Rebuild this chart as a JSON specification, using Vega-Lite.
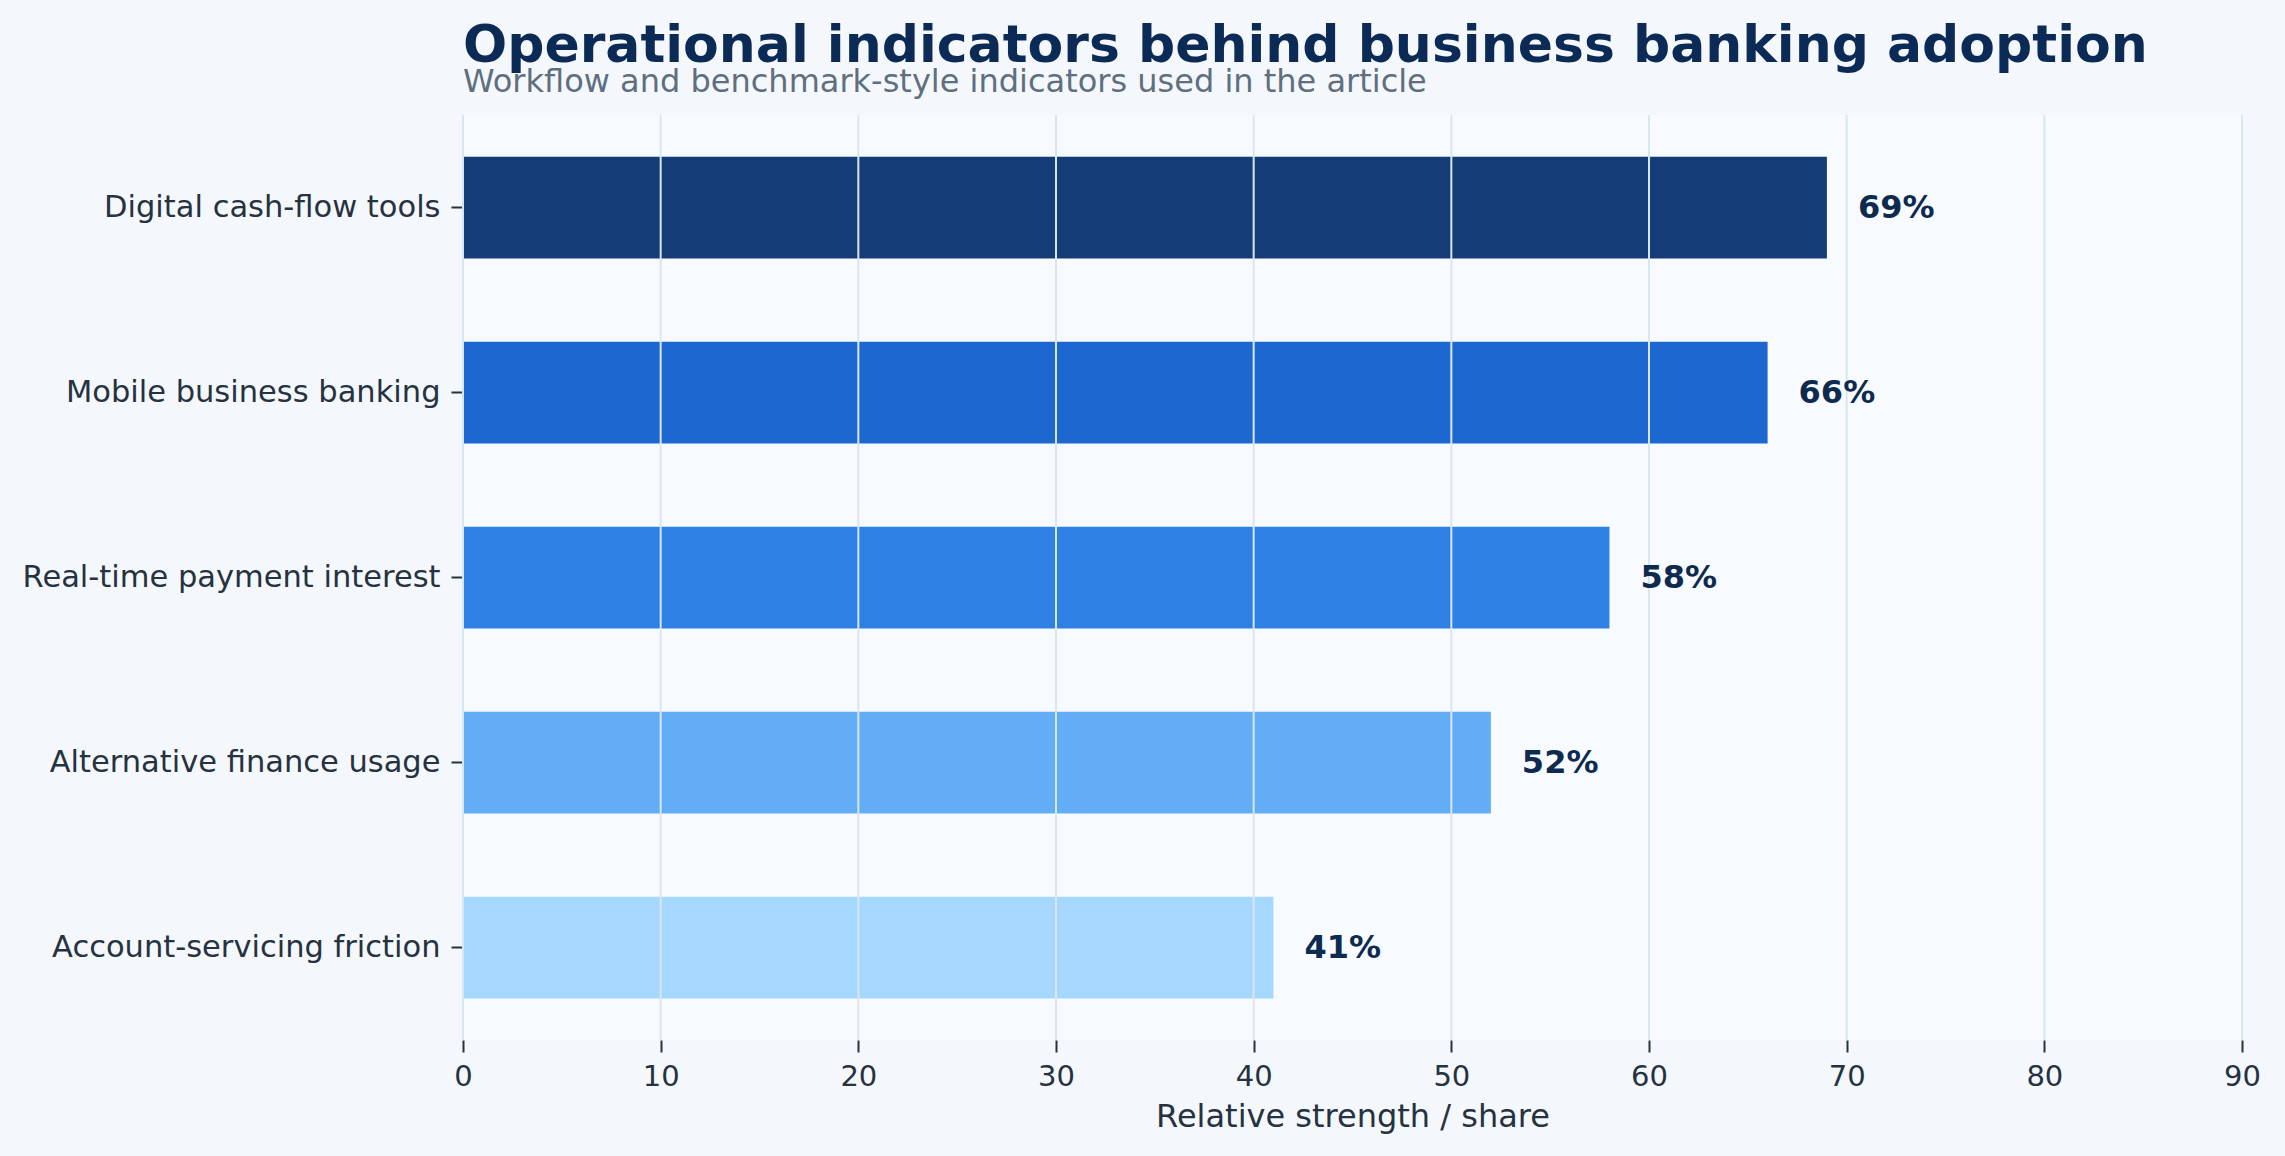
{
  "$schema": "https://vega.github.io/schema/vega-lite/v6.json",
  "width": 1779,
  "height": 925,
  "autosize": {"type": "none"},
  "padding": {"left": 463, "top": 115, "right": 43, "bottom": 116},
  "background": "#f4f8fc",
  "title": {
    "text": "Operational indicators behind business banking adoption",
    "subtitle": "Workflow and benchmark-style indicators used in the article",
    "anchor": "start",
    "frame": "group",
    "offset": 15,
    "subtitlePadding": -6
  },
  "datasets": {
    "bars": [
      {"indicator": "Digital cash-flow tools", "value": 69, "label": "69%"},
      {"indicator": "Mobile business banking", "value": 66, "label": "66%"},
      {"indicator": "Real-time payment interest", "value": 58, "label": "58%"},
      {"indicator": "Alternative finance usage", "value": 52, "label": "52%"},
      {"indicator": "Account-servicing friction", "value": 41, "label": "41%"}
    ],
    "grid": [
      {"value": 0}, {"value": 10}, {"value": 20}, {"value": 30}, {"value": 40},
      {"value": 50}, {"value": 60}, {"value": 70}, {"value": 80}, {"value": 90}
    ]
  },
  "data": {"name": "bars"},
  "layer": [
    {
      "mark": {"type": "bar"},
      "encoding": {
        "y": {
          "field": "indicator",
          "type": "nominal",
          "sort": null,
          "title": null,
          "scale": {"paddingInner": 0.45, "paddingOuter": 0.225},
          "axis": {"grid": false, "domain": false, "ticks": true, "tickSize": 12, "tickWidth": 2, "labelPadding": 11, "labelLimit": 0, "labelFontSize": 30.5}
        },
        "x": {
          "field": "value",
          "type": "quantitative",
          "title": "Relative strength / share",
          "scale": {"domain": [0, 90], "nice": false},
          "axis": {
            "values": [0, 10, 20, 30, 40, 50, 60, 70, 80, 90],
            "grid": false,
            "domain": false,
            "tickSize": 12,
            "tickWidth": 2,
            "labelFlush": false,
            "labelPadding": 10,
            "labelFontSize": 29,
            "titleFontSize": 32,
            "titlePadding": 10
          }
        },
        "color": {
          "field": "indicator",
          "type": "nominal",
          "legend": null,
          "scale": {
            "domain": ["Digital cash-flow tools", "Mobile business banking", "Real-time payment interest", "Alternative finance usage", "Account-servicing friction"],
            "range": ["#143d78", "#1c68d0", "#2f80e5", "#63adf7", "#a6d8fe"]
          }
        }
      }
    },
    {
      "data": {"name": "grid"},
      "mark": {"type": "rule", "color": "#d8e6ef", "strokeWidth": 2},
      "encoding": {"x": {"field": "value", "type": "quantitative"}}
    },
    {
      "mark": {"type": "text", "align": "left", "baseline": "middle", "dx": 31, "font": "DejaVu Sans", "fontSize": 32, "fontWeight": "bold", "color": "#0f2a4f"},
      "encoding": {
        "y": {"field": "indicator", "type": "nominal", "sort": null},
        "x": {"field": "value", "type": "quantitative"},
        "text": {"field": "label"}
      }
    }
  ],
  "config": {
    "view": {"stroke": null, "fill": "#f7fbff"},
    "font": "DejaVu Sans",
    "axis": {
      "labelFont": "DejaVu Sans",
      "labelColor": "#26323f",
      "titleFont": "DejaVu Sans",
      "titleFontWeight": "normal",
      "titleColor": "#26323f",
      "tickColor": "#26323f"
    },
    "title": {
      "font": "DejaVu Sans",
      "fontSize": 52,
      "fontWeight": "bold",
      "color": "#0b2a55",
      "subtitleFont": "DejaVu Sans",
      "subtitleFontSize": 32,
      "subtitleColor": "#5f6f80"
    }
  }
}
